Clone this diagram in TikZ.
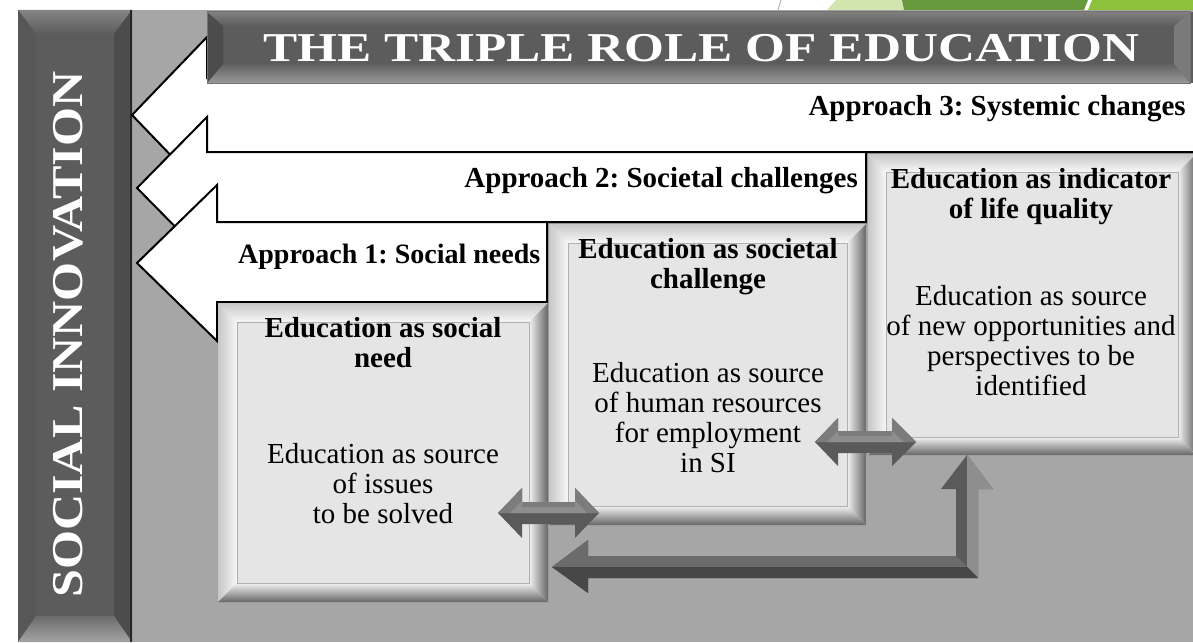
\documentclass[tikz,border=0pt]{standalone}
\usepackage{fontspec}
\setmainfont{Liberation Serif}
\frenchspacing
\definecolor{bggray}{HTML}{A6A6A6}
\definecolor{barbody}{HTML}{5C5C5C}
\definecolor{paneli}{HTML}{E5E5E5}
\definecolor{panelb}{HTML}{B0B0B0}
\definecolor{arrdark}{HTML}{5A5A5A}
\definecolor{arrmid}{HTML}{7C7C7C}
\definecolor{arrlight}{HTML}{8E8E8E}
\definecolor{grnlight}{HTML}{D3E5AE}
\definecolor{grndark}{HTML}{679A3C}
\definecolor{grnmid}{HTML}{8FC23C}
% raised light box: x1 y1 x2 y2 w
\newcommand\litebox[5]{%
  \fill[black!14] (#1,#2) rectangle (#3,#4);
  \shade[top color=black!22, bottom color=black!3] (#1,#2) -- (#3,#2) -- ({#3-#5},{#2+#5}) -- ({#1+#5},{#2+#5}) -- cycle;
  \shade[left color=black!22, right color=black!3] (#1,#2) -- ({#1+#5},{#2+#5}) -- ({#1+#5},{#4-#5}) -- (#1,#4) -- cycle;
  \shade[top color=black!5, bottom color=black!60] (#1,#4) -- ({#1+#5},{#4-#5}) -- ({#3-#5},{#4-#5}) -- (#3,#4) -- cycle;
  \shade[left color=black!5, right color=black!60] (#3,#2) -- ({#3-#5},{#2+#5}) -- ({#3-#5},{#4-#5}) -- (#3,#4) -- cycle;
  \filldraw[fill=paneli, draw=panelb, line width=1pt] ({#1+#5},{#2+#5}) rectangle ({#3-#5},{#4-#5});
}
\tikzset{
  outl/.style={fill=white, draw=black, line width=2pt, line join=miter},
  boldtxt/.style={inner sep=0pt, align=center, font=\bfseries\fontsize{29}{30}\selectfont},
  regtxt/.style={inner sep=0pt, align=center, font=\fontsize{29}{30}\selectfont},
  apptxt/.style={inner sep=0pt, font=\bfseries\fontsize{29}{30}\selectfont},
}
\begin{document}
\begin{tikzpicture}[x=1pt,y=-1pt]
\useasboundingbox (0,0) rectangle (1193,642);
\clip (0,0) rectangle (1193,642);
\fill[white] (0,0) rectangle (1193,642);
% slide decoration at top
\draw[black!35, line width=0.8pt] (781,0) -- (778,10);
\fill[grnlight] (836,0) -- (902,0) -- (904,10) -- (827,10) -- cycle;
\fill[grndark] (902,0) -- (1088,0) -- (1084,10) -- (904,10) -- cycle;
\fill[grnmid] (1092,0) -- (1193,0) -- (1193,10) -- (1088,10) -- cycle;
% grey background
\fill[bggray] (132,10) rectangle (1193,642);
% vertical dark bar
\fill[barbody] (18,10) rectangle (132,642);
\shade[top color=black!48, bottom color=black!64] (18,10) -- (132,10) -- (114,34) -- (36,34) -- cycle;
\fill[black!66] (18,10) -- (36,34) -- (36,616) -- (18,642) -- cycle;
\fill[black!70] (132,10) -- (114,34) -- (114,616) -- (132,642) -- cycle;
\shade[top color=black!58, bottom color=black!36] (18,642) -- (36,616) -- (114,616) -- (132,642) -- cycle;
\draw[black!85, line width=1.5pt] (131,10) -- (131,642);
\node[rotate=90, anchor=base west, inner sep=0pt, text=white, font=\bfseries\fontsize{44}{46}\selectfont] (side) at (82,598) {\scalebox{1.14}[1]{SOCIAL INNOVATION}};
% white block arrows
\draw[outl] (1200,78) -- (207,78) -- (207,37) -- (132,115) -- (207,193) -- (207,152) -- (1200,152) -- cycle;
\draw[outl] (866,152) -- (207,152) -- (207,117) -- (137,188) -- (207,259) -- (207,222) -- (866,222) -- cycle;
\draw[outl] (547,222) -- (217,222) -- (217,185) -- (137,263) -- (217,341) -- (217,302) -- (547,302) -- cycle;
\node[apptxt, anchor=base east] (ap3) at (1186,115) {Approach 3: Systemic changes};
\node[apptxt, anchor=base east] (ap2) at (858,187) {Approach 2: Societal challenges};
\node[apptxt, anchor=base west, font=\bfseries\fontsize{28}{30}\selectfont] (ap1) at (238,263) {Approach 1: Social needs};
% title bar
\fill[barbody] (207,12) rectangle (1193,83);
\shade[top color=black!50, bottom color=black!64] (207,12) -- (1190,12) -- (1174,26) -- (223,26) -- cycle;
\shade[top color=black!62, bottom color=black!40] (207,83) -- (223,64) -- (1174,64) -- (1190,83) -- cycle;
\fill[black!70] (207,12) -- (223,26) -- (223,64) -- (207,83) -- cycle;
\fill[black!52] (1190,12) -- (1174,26) -- (1174,64) -- (1190,83) -- cycle;
\draw[black!55, line width=1pt] (207,12) rectangle (1190,83);
\node[anchor=base west, inner sep=0pt, text=white, font=\bfseries\fontsize{41}{44}\selectfont] (title) at (263,62) {\scalebox{1.25}[1]{THE TRIPLE ROLE OF EDUCATION}};
% content boxes
\litebox{218}{303}{548}{602}{19}
\litebox{549}{224}{866}{525}{19}
\litebox{868}{154}{1196}{455}{18}
\node[boldtxt, anchor=north] (b1h) at (383,317) {Education as social\\need};
\node[regtxt, anchor=north] (b1t) at (383,443) {Education as source\\of issues\\to be solved};
\node[boldtxt, anchor=north] (b2h) at (708,238) {Education as societal\\challenge};
\node[regtxt, anchor=north] (b2t) at (708,362) {Education as source\\of human resources\\for employment\\in SI};
\node[boldtxt, anchor=north] (b3h) at (1031,168) {Education as indicator\\of life quality};
\node[regtxt, anchor=north] (b3t) at (1031,285) {Education as source\\of new opportunities and\\perspectives to be\\identified};
% 3D double arrow between box 1 and box 2
\fill[arrdark] (498,513) -- (522,488) -- (522,502) -- (575,502) -- (575,488) -- (599,513) -- (575,538) -- (575,524) -- (522,524) -- (522,538) -- cycle;
\fill[arrmid] (498,513) -- (522,488) -- (522,502) -- (575,502) -- (575,488) -- (599,513) -- cycle;
\fill[arrlight] (510,513) -- (522,501) -- (522,507) -- (575,507) -- (575,501) -- (587,513) -- cycle;
% 3D double arrow between box 2 and box 3
\fill[arrdark] (815,442) -- (838,418) -- (838,431) -- (892,431) -- (892,418) -- (916,442) -- (892,466) -- (892,453) -- (838,453) -- (838,466) -- cycle;
\fill[arrmid] (815,442) -- (838,418) -- (838,431) -- (892,431) -- (892,418) -- (916,442) -- cycle;
\fill[arrlight] (827,442) -- (838,431) -- (838,436) -- (892,436) -- (892,431) -- (904,442) -- cycle;
% 3D elbow arrow from box 3 to box 1
\fill[arrdark] (552,567) -- (588,540) -- (588,556) -- (956,556) -- (956,489) -- (941,489) -- (967,455) -- (993,489) -- (978,489) -- (978,578) -- (588,578) -- (588,593) -- cycle;
\fill[black!58] (552,567) -- (588,540) -- (588,556) -- (956,556) -- (967,567) -- cycle;
\fill[arrlight] (967,455) -- (993,489) -- (978,489) -- (978,578) -- (967,567) -- cycle;
\fill[black!72] (552,567) -- (588,593) -- (588,578) -- (978,578) -- (967,567) -- cycle;
\end{tikzpicture}
\end{document}
